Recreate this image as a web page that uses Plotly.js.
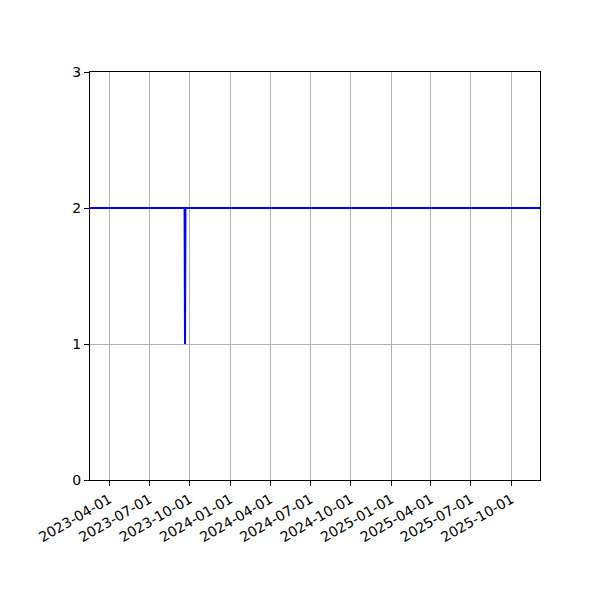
<!DOCTYPE html>
<html>
<head>
<meta charset="utf-8">
<script src="https://cdn.plot.ly/plotly-3.0.1.min.js"></script>
<style>html,body{margin:0;padding:0;background:#fff;}#chart{width:600px;height:600px;}</style>
</head>
<body>
<div id="chart"></div>
<script>
const dates = ["2023-02-01", "2023-09-19", "2023-09-20", "2023-09-21", "2025-12-31"];
const values = [2, 2, 1, 2, 2];
const xTicks = ["2023-04-01","2023-07-01","2023-10-01","2024-01-01","2024-04-01","2024-07-01","2024-10-01","2025-01-01","2025-04-01","2025-07-01","2025-10-01"];
const yTicks = [0, 1, 2, 3];

const trace = {
  x: dates, y: values, type: "scatter", mode: "lines",
  line: {color: "#0000ff", width: 2}, hoverinfo: "skip"
};
const axisCommon = {
  showline: true, linecolor: "#000", linewidth: 1, mirror: true,
  ticks: "outside", ticklen: 5, tickwidth: 1, tickcolor: "#000",
  showgrid: true, gridcolor: "#b0b0b0", gridwidth: 1, zeroline: false,
  tickfont: {family: "DejaVu Sans", size: 14, color: "#000"}
};
const layout = {
  width: 600, height: 600,
  margin: {l: 90, r: 60, t: 72, b: 120},
  paper_bgcolor: "#fff", plot_bgcolor: "#fff",
  showlegend: false,
  xaxis: Object.assign({}, axisCommon, {
    type: "date", range: ["2023-02-16", "2025-12-05"],
    tickmode: "array", tickvals: xTicks, ticktext: xTicks,
    tickangle: -30
  }),
  yaxis: Object.assign({}, axisCommon, {
    range: [0, 3], tickmode: "array", tickvals: yTicks, ticktext: yTicks.map(String)
  })
};
Plotly.newPlot("chart", [trace], layout, {staticPlot: true, displayModeBar: false});
</script>
</body>
</html>
